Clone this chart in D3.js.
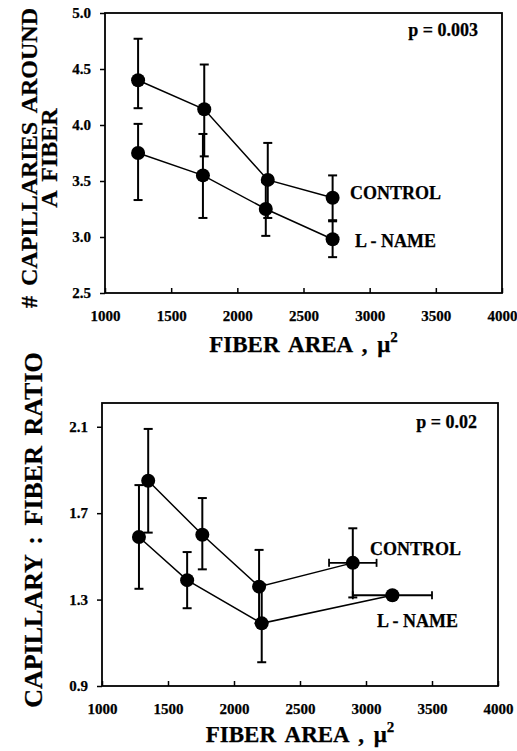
<!DOCTYPE html>
<html>
<head>
<meta charset="utf-8">
<script src="https://cdn.jsdelivr.net/npm/d3@7"></script>
<style>
  body { margin: 0; background: #fff; }
  svg text { font-family: "Liberation Serif", "Times New Roman", serif; font-weight: bold; fill: #000; stroke: #000; stroke-width: 0.25px; }
</style>
</head>
<body>
<svg id="chart" width="517" height="751"></svg>
<script>
// ---- panel 1 : # capillaries around a fiber vs fiber area
const area1Control = [1250, 1750, 2230, 2720];
const capAround1Control = [4.40, 4.14, 3.51, 3.35];
const capAround1ControlHi = [4.77, 4.54, 3.84, 3.55];
const capAround1ControlLo = [4.15, 3.72, 3.17, 3.15];
const area1Lname = [1250, 1740, 2215, 2720];
const capAround1Lname = [3.75, 3.55, 3.25, 2.98];
const capAround1LnameHi = [4.01, 3.92, 3.49, 3.14];
const capAround1LnameLo = [3.33, 3.17, 3.01, 2.82];
const yTicks1 = [2.5, 3.0, 3.5, 4.0, 4.5, 5.0];

// ---- panel 2 : capillary : fiber ratio vs fiber area
const area2Control = [1350, 1760, 2190, 2900];
const area2ControlErr = [0, 0, 0, 180];
const ratio2Control = [1.85, 1.60, 1.36, 1.47];
const ratio2ControlHi = [2.09, 1.77, 1.53, 1.63];
const ratio2ControlLo = [1.61, 1.44, 1.19, 1.31];
const area2Lname = [1280, 1645, 2210, 3200];
const area2LnameErr = [0, 0, 0, 300];
const ratio2Lname = [1.59, 1.39, 1.19, 1.32];
const ratio2LnameHi = [1.83, 1.52, 1.37, 1.32];
const ratio2LnameLo = [1.35, 1.26, 1.01, 1.32];
const yTicks2 = [0.9, 1.3, 1.7, 2.1];

const xTicks = [1000, 1500, 2000, 2500, 3000, 3500, 4000];

function makeSeries(xs, ys, his, los, xerr) {
  return xs.map((x, i) => ({ x: x, y: ys[i], hi: his[i], lo: los[i], xe: xerr ? xerr[i] : 0 }));
}

const svg = d3.select("#chart");

function drawPanel(p) {
  const x = d3.scaleLinear().domain([1000, 4000]).range([p.left, p.right]);
  const y = d3.scaleLinear().domain(p.yDomain).range([p.bottom, p.top]);
  const g = svg.append("g");

  // frame
  g.append("rect")
    .attr("x", p.left).attr("y", y(p.yDomain[1]))
    .attr("width", p.right - p.left).attr("height", p.bottom - y(p.yDomain[1]))
    .attr("fill", "none").attr("stroke", "#000").attr("stroke-width", 1.8);

  // axes
  const ya = g.append("g")
    .attr("transform", `translate(${p.left},0)`)
    .call(d3.axisLeft(y).tickValues(p.yTicks).tickFormat(d3.format(".1f")).tickSize(5).tickPadding(9));
  const xa = g.append("g")
    .attr("transform", `translate(0,${p.bottom})`)
    .call(d3.axisBottom(x).tickValues(xTicks).tickFormat(d3.format("d")).tickSize(-5).tickPadding(17));
  [ya, xa].forEach(a => {
    a.select(".domain").remove();
    a.selectAll("line").attr("stroke", "#000").attr("stroke-width", 1.5);
    a.selectAll("text").style("font-size", "15px").style("font-family", "'Liberation Serif', serif").style("font-weight", "bold");
  });

  p.series.forEach(s => {
    // connecting line
    g.append("path")
      .datum(s.data)
      .attr("d", d3.line().x(d => x(d.x)).y(d => y(d.y)))
      .attr("fill", "none").attr("stroke", "#000").attr("stroke-width", 1.5);

    // vertical error bars
    const eb = g.selectAll(null).data(s.data.filter(d => d.hi !== d.lo)).enter();
    eb.append("line")
      .attr("x1", d => x(d.x)).attr("x2", d => x(d.x))
      .attr("y1", d => y(d.hi)).attr("y2", d => y(d.lo))
      .attr("stroke", "#000").attr("stroke-width", 2);
    ["hi", "lo"].forEach(k => {
      eb.append("line")
        .attr("x1", d => x(d.x) - 4.5).attr("x2", d => x(d.x) + 4.5)
        .attr("y1", d => y(d[k])).attr("y2", d => y(d[k]))
        .attr("stroke", "#000").attr("stroke-width", 2);
    });

    // horizontal error bars
    const hb = g.selectAll(null).data(s.data.filter(d => d.xe > 0)).enter();
    hb.append("line")
      .attr("x1", d => x(d.x - d.xe)).attr("x2", d => x(d.x + d.xe))
      .attr("y1", d => y(d.y)).attr("y2", d => y(d.y))
      .attr("stroke", "#000").attr("stroke-width", 1.8);
    [-1, 1].forEach(sg => {
      hb.append("line")
        .attr("x1", d => x(d.x + sg * d.xe)).attr("x2", d => x(d.x + sg * d.xe))
        .attr("y1", d => y(d.y) - 4).attr("y2", d => y(d.y) + 4)
        .attr("stroke", "#000").attr("stroke-width", 1.8);
    });

    // markers
    g.selectAll(null).data(s.data).enter()
      .append("circle")
      .attr("cx", d => x(d.x)).attr("cy", d => y(d.y))
      .attr("r", 7).attr("fill", "#000");

    g.append("text")
      .attr("x", s.labelX).attr("y", s.labelY)
      .style("font-size", "18px")
      .text(s.label);
  });

  // p value
  g.append("text")
    .attr("x", p.pX).attr("y", p.pY)
    .attr("text-anchor", "end")
    .style("font-size", "18px")
    .text(p.pText);

  // x title
  const xt = g.append("text")
    .attr("x", (p.left + p.right) / 2).attr("y", p.bottom + p.xTitleOff)
    .attr("text-anchor", "middle")
    .style("font-size", "23px")
    .style("word-spacing", "4px");
  xt.append("tspan").text("FIBER  AREA , \u03bc");
  xt.append("tspan").attr("dy", -10).style("font-size", "15px").text("2");

  // y title lines
  p.yTitle.forEach(t => {
    g.append("text")
      .attr("transform", `translate(${t.x},${t.y}) rotate(-90)`)
      .attr("text-anchor", "middle")
      .style("font-size", t.size + "px")
      .style("word-spacing", "4px")
      .text(t.text);
  });
}

drawPanel({
  left: 105, right: 502, top: 13, bottom: 293,
  yDomain: [2.5, 5.0], yTicks: yTicks1,
  pText: "p = 0.003", pX: 478, pY: 36,
  xTitleOff: 59,
  yTitle: [
    { text: "# CAPILLARIES AROUND", x: 37, y: 158, size: 24 },
    { text: "A  FIBER", x: 57, y: 158, size: 24 }
  ],
  series: [
    { data: makeSeries(area1Control, capAround1Control, capAround1ControlHi, capAround1ControlLo), label: "CONTROL", labelX: 350, labelY: 199 },
    { data: makeSeries(area1Lname, capAround1Lname, capAround1LnameHi, capAround1LnameLo), label: "L - NAME", labelX: 355, labelY: 247 }
  ]
});

drawPanel({
  left: 102, right: 498, top: 403, bottom: 686,
  yDomain: [0.9, 2.21], yTicks: yTicks2,
  pText: "p = 0.02", pX: 477, pY: 428,
  xTitleOff: 56,
  yTitle: [
    { text: "CAPILLARY : FIBER RATIO", x: 42, y: 530, size: 26 }
  ],
  series: [
    { data: makeSeries(area2Control, ratio2Control, ratio2ControlHi, ratio2ControlLo, area2ControlErr), label: "CONTROL", labelX: 370, labelY: 555 },
    { data: makeSeries(area2Lname, ratio2Lname, ratio2LnameHi, ratio2LnameLo, area2LnameErr), label: "L - NAME", labelX: 377, labelY: 627 }
  ]
});
</script>
</body>
</html>
